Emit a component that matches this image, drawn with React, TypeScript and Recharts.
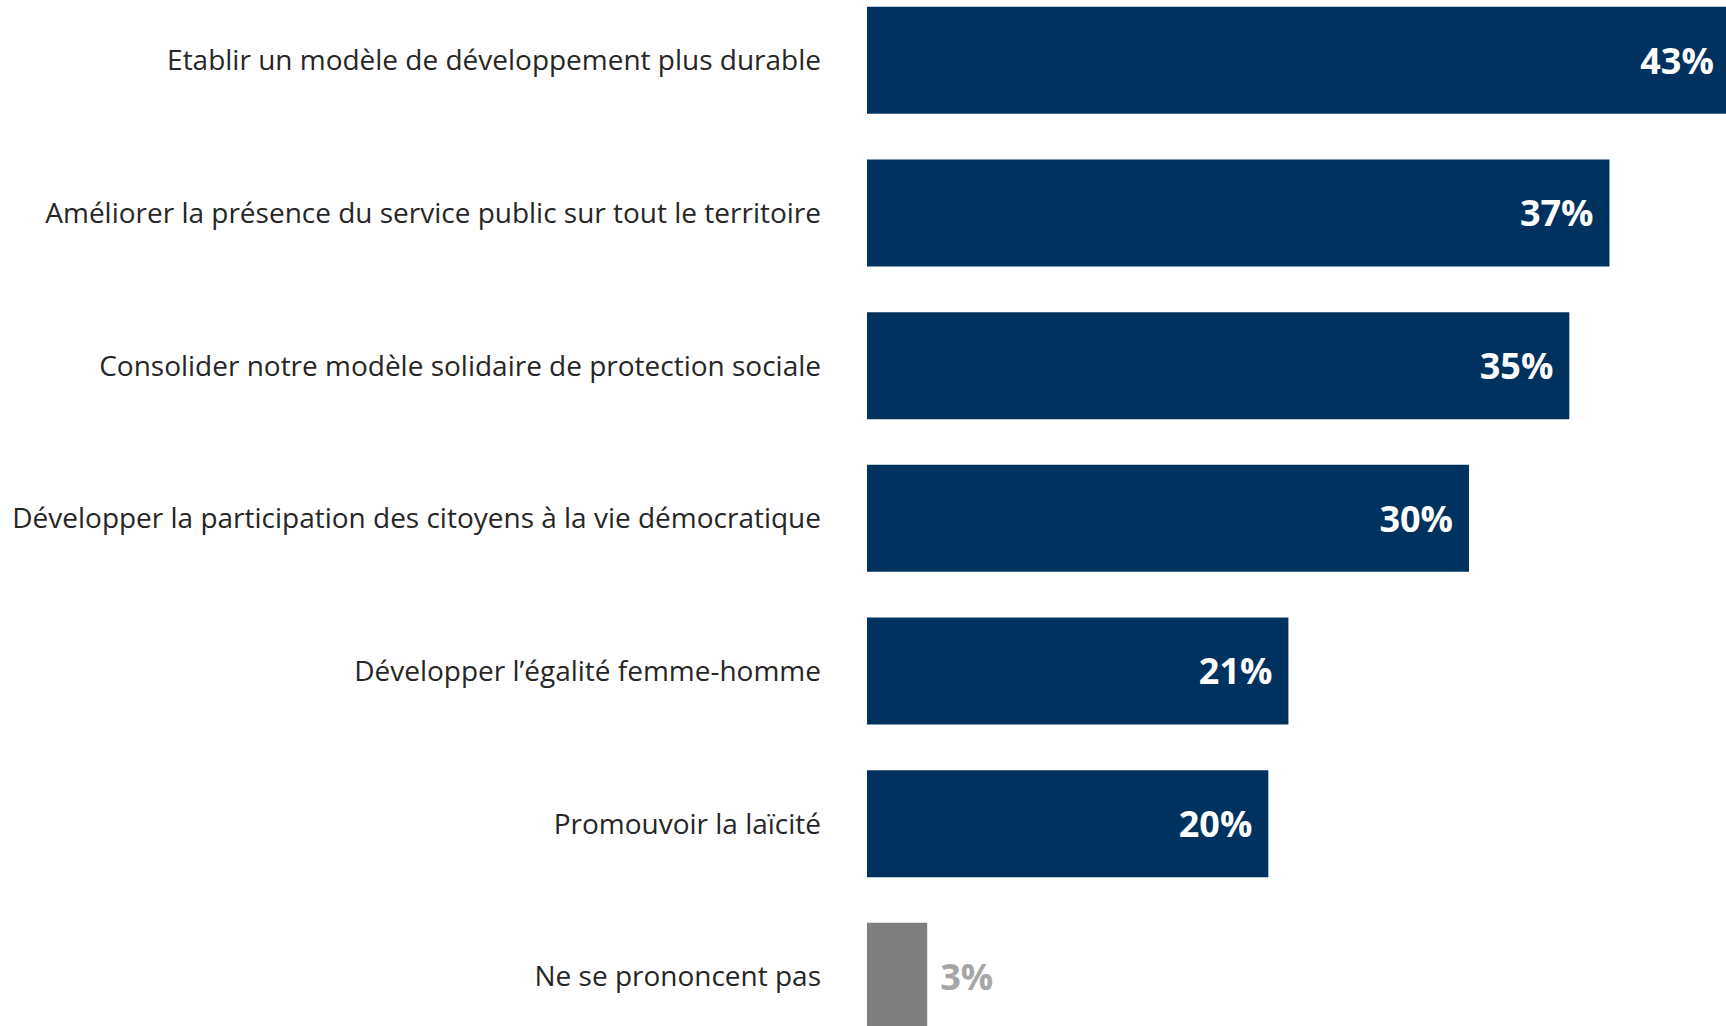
import React from "react";
import { BarChart, Bar, XAxis, YAxis, Cell, LabelList } from "recharts";

const categories = [
  "Etablir un modèle de développement plus durable",
  "Améliorer la présence du service public sur tout le territoire",
  "Consolider notre modèle solidaire de protection sociale",
  "Développer la participation des citoyens à la vie démocratique",
  "Développer l’égalité femme-homme",
  "Promouvoir la laïcité",
  "Ne se prononcent pas",
];
const values = [43, 37, 35, 30, 21, 20, 3];
const valueLabels = ["43%", "37%", "35%", "30%", "21%", "20%", "3%"];
const barColors = ["#00325F", "#00325F", "#00325F", "#00325F", "#00325F", "#00325F", "#7F7F7F"];

const data = categories.map((name, i) => ({ name, value: values[i], label: valueLabels[i], color: barColors[i] }));

const FONT = "'Open Sans', sans-serif";

const ValueLabel = (props: any) => {
  const { x, y, width, height, index } = props;
  const inside = index !== data.length - 1;
  const cy = y + height / 2;
  if (inside) {
    return (
      <text x={x + width - 16} y={cy} textAnchor="end" dominantBaseline="central" fill="#FFFFFF" fontFamily={FONT} fontWeight={700} fontSize={36}>
        {data[index].label}
      </text>
    );
  }
  return (
    <text x={x + width + 13} y={cy} textAnchor="start" dominantBaseline="central" fill="#A6A6A6" fontFamily={FONT} fontWeight={700} fontSize={36}>
      {data[index].label}
    </text>
  );
};

export default function App() {
  const bandPitch = 152.67;
  const plotHeight = bandPitch * categories.length;
  return (
    <div style={{ position: "absolute", left: 0, top: 0, width: 1726, height: 1026, overflow: "hidden", background: "#fff" }}>
      <div style={{ position: "absolute", left: 0, top: -15.8 }}>
        <BarChart
          width={1770}
          height={plotHeight}
          data={data}
          layout="vertical"
          margin={{ top: 0, right: 0, bottom: 0, left: 0 }}
          barCategoryGap={22.8}
        >
          <XAxis type="number" domain={[0, 45]} hide />
          <YAxis
            type="category"
            dataKey="name"
            width={867}
            axisLine={false}
            tickLine={false}
            tickSize={0}
            tickMargin={46}
            interval={0}
            tick={{ fill: "#262626", fontSize: 28, fontFamily: FONT }}
          />
          <Bar dataKey="value" isAnimationActive={false}>
            {data.map((d, i) => (
              <Cell key={i} fill={d.color} />
            ))}
            <LabelList dataKey="label" content={ValueLabel} />
          </Bar>
        </BarChart>
      </div>
    </div>
  );
}
